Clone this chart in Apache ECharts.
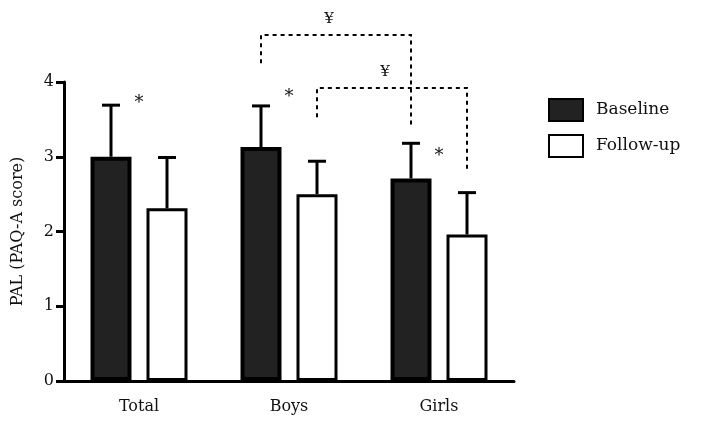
<!DOCTYPE html>
<html>
<head>
<meta charset="utf-8">
<script src="https://cdn.jsdelivr.net/npm/echarts@6/dist/echarts.min.js"></script>
<style>html,body{margin:0;padding:0;background:#fff}#c{width:715px;height:430px}</style>
</head>
<body>
<div id="c"></div>
<script>
const categories = ['Total', 'Boys', 'Girls'];
const baseline = [3.00, 3.13, 2.71];
const baselineUpper = [3.69, 3.68, 3.18];
const followup = [2.31, 2.50, 1.96];
const followupUpper = [2.99, 2.94, 2.52];
const yTicks = [0, 1, 2, 3, 4];
const seriesNames = ['Baseline', 'Follow-up'];
// significance markers: [category index, y value]
const starMarks = [[0, 3.71], [1, 3.80], [2, 3.01]];
// brackets: [fromCat, fromSeries, toCat, toSeries, topY, leftBottomY, rightBottomY, label]
const brackets = [
  [1, 0, 2, 0, 4.63, 4.25, 3.38, '¥'],
  [1, 1, 2, 1, 3.92, 3.53, 2.80, '¥']
];

const FONT = 'DejaVu Serif';
const BAR_W = 41, BAR_GAP = 15;
const OFFS = [-(BAR_W + BAR_GAP) / 2, (BAR_W + BAR_GAP) / 2];

const chart = echarts.init(document.getElementById('c'));

function errSeries(vals, uppers, sIdx) {
  return {
    type: 'custom',
    z: 5,
    silent: true,
    data: vals.map((v, i) => [i, v, uppers[i]]),
    renderItem: function (params, api) {
      const x = api.coord([api.value(0), 0])[0] + OFFS[sIdx];
      const y0 = api.coord([api.value(0), api.value(1)])[1];
      const y1 = api.coord([api.value(0), api.value(2)])[1];
      const st = { stroke: '#000', lineWidth: 3 };
      return {
        type: 'group',
        children: [
          { type: 'line', shape: { x1: x, y1: y0, x2: x, y2: y1 }, style: st },
          { type: 'line', shape: { x1: x - 9, y1: y1, x2: x + 9, y2: y1 }, style: st }
        ]
      };
    }
  };
}

const option = {
  animation: false,
  backgroundColor: '#fff',
  grid: { left: 64, right: 201, top: 82, bottom: 49, containLabel: false },
  legend: {
    orient: 'vertical',
    left: 543,
    top: 93,
    icon: 'rect',
    itemWidth: 34,
    itemHeight: 22,
    itemGap: 12,
    data: seriesNames,
    textStyle: { fontFamily: FONT, fontSize: 17, color: '#111', padding: [0, 0, 0, 8] }
  },
  xAxis: {
    type: 'category',
    data: categories,
    axisLine: { lineStyle: { color: '#000', width: 3 } },
    axisTick: { alignWithLabel: true, length: 6, lineStyle: { color: '#000', width: 3 } },
    axisLabel: { fontFamily: FONT, fontSize: 16, color: '#111', margin: 18 },
    splitLine: { show: false }
  },
  yAxis: {
    type: 'value',
    min: yTicks[0],
    max: yTicks[yTicks.length - 1],
    interval: 1,
    name: 'PAL (PAQ-A score)',
    nameLocation: 'middle',
    nameGap: 38,
    nameTextStyle: { fontFamily: FONT, fontSize: 16, color: '#111' },
    axisLine: { show: true, lineStyle: { color: '#000', width: 3 } },
    axisTick: { show: true, length: 8, lineStyle: { color: '#000', width: 3 } },
    axisLabel: { fontFamily: FONT, fontSize: 16, color: '#111', margin: 10 },
    splitLine: { show: false }
  },
  series: [
    {
      name: seriesNames[0], type: 'bar', data: baseline, barWidth: BAR_W, barGap: (BAR_GAP / BAR_W * 100) + '%',
      itemStyle: { color: '#222', borderColor: '#000', borderWidth: 4 }
    },
    {
      name: seriesNames[1], type: 'bar', data: followup, barWidth: BAR_W,
      itemStyle: { color: '#fff', borderColor: '#000', borderWidth: 3 }
    },
    errSeries(baseline, baselineUpper, 0),
    errSeries(followup, followupUpper, 1)
  ]
};
chart.setOption(option);

function px(cat, sIdx, y) {
  const p = chart.convertToPixel({ gridIndex: 0 }, [cat, y]);
  return [p[0] + (sIdx === null ? 0 : OFFS[sIdx]), p[1]];
}

const g = [];
const dash = { stroke: '#000', lineWidth: 2, lineDash: [4, 4] };
brackets.forEach(b => {
  const [c0, s0, c1, s1, top, lb, rb, label] = b;
  const L = px(c0, s0, top), R = px(c1, s1, top);
  const LB = px(c0, s0, lb), RB = px(c1, s1, rb);
  g.push({ type: 'polyline', shape: { points: [[LB[0], LB[1]], [L[0], L[1]], [R[0], R[1]], [RB[0], RB[1]]] }, style: Object.assign({ fill: null }, dash), z: 10 });
  g.push({ type: 'text', x: (L[0] + R[0]) / 2 - 7, y: L[1] - 8, style: { text: label, font: '15px "' + FONT + '"', fill: '#111', align: 'center', verticalAlign: 'bottom' }, z: 10 });
});
starMarks.forEach(s => {
  const p = px(s[0], null, s[1]);
  g.push({ type: 'text', x: p[0], y: p[1], style: { text: '*', font: '18px "' + FONT + '"', fill: '#111', align: 'center', verticalAlign: 'middle' }, z: 10 });
});
chart.setOption({ graphic: g });
</script>
</body>
</html>
